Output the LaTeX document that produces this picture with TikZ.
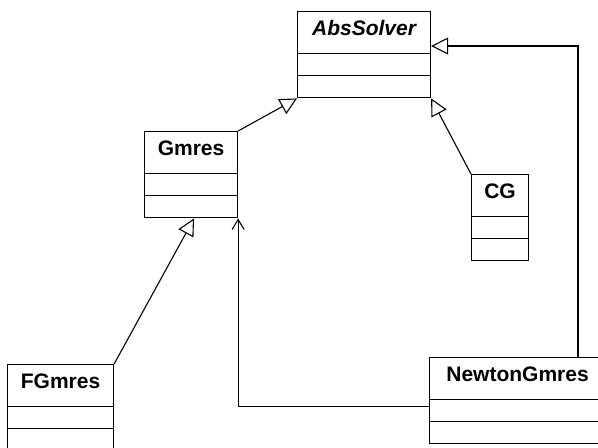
\documentclass[tikz,border=0pt]{standalone}
\usepackage{fontspec}
\setmainfont{Liberation Sans}
\usepackage{tikz}
\usetikzlibrary{shapes,arrows.meta,calc}
\newcommand{\cname}[1]{\rule[-9pt]{0pt}{20.5pt}#1}
\tikzstyle{classbox} = [draw, rectangle split, rectangle split parts=3, anchor=north west, inner xsep=0pt, inner ysep=0pt, rectangle split empty part height=10.5pt, rectangle split empty part depth=0pt, font=\bfseries\fontsize{10.5}{12}\selectfont, line width=0.55pt]
\tikzstyle{inherit} = [draw, line width=0.55pt, -{Triangle[open, length=8.5pt, width=8.5pt]}]
\tikzstyle{assoc} = [draw, line width=0.55pt, -{Straight Barb[length=5pt, width=6pt]}]

\begin{document}
\begin{tikzpicture}[x=0.5pt, y=-0.5pt]
        \useasboundingbox (0,0) rectangle (598,447);
        \clip (0,0) rectangle (598,447);
        \node[classbox, minimum width=66.5pt] (abssolver) at (297,11) {\cname{\itshape AbsSolver}};
        \node[classbox, minimum width=46.5pt] (gmres) at (144,131) {\cname{Gmres}};
        \node[classbox, minimum width=28.5pt] (cg) at (471,174) {\cname{CG}};
        \node[classbox, minimum width=53pt] (fgmres) at (7,364) {\cname{FGmres}};
        \node[classbox, minimum width=88pt] (newton) at (429,357) {\cname{NewtonGmres}};
        \coordinate (bend) at (578,46);
        \path[inherit] (gmres.north east) -- (abssolver.south west);
        \path[inherit] (cg.north west) -- (abssolver.south east);
        \path[inherit] (newton.north -| bend) -- (bend) -- (abssolver.east |- bend);
        \path[inherit] (fgmres.north east) -- ([xshift=1.5pt]gmres.south);
        \path[assoc] ([yshift=-3pt]newton.west) -| (gmres.south east);
    \end{tikzpicture}
\end{document}
